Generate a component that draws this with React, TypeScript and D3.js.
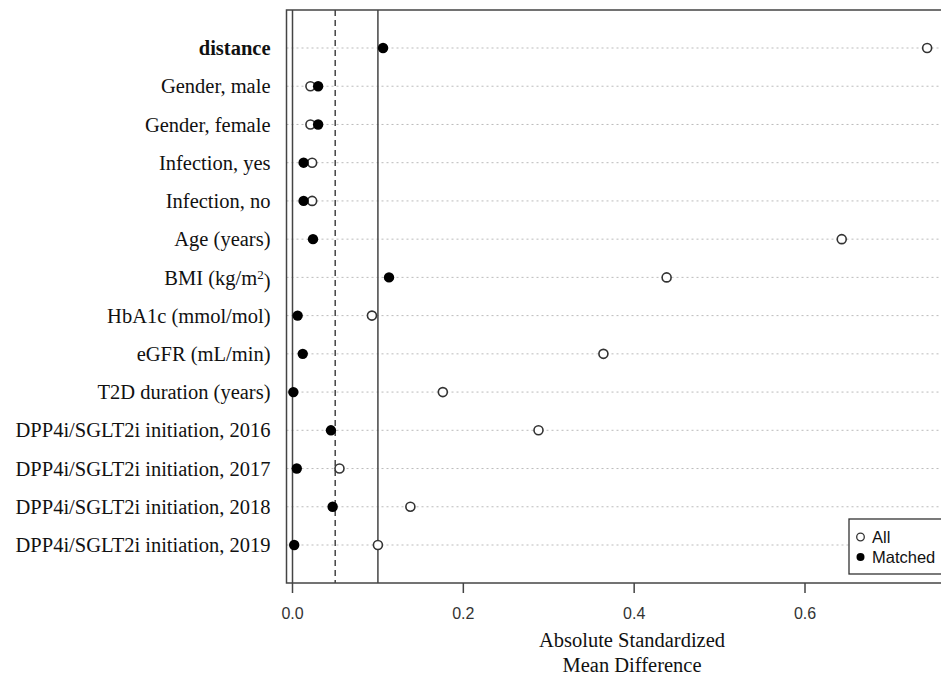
import React from "react";
import * as d3 from "d3";

const categories = [
  "distance",
  "Gender, male",
  "Gender, female",
  "Infection, yes",
  "Infection, no",
  "Age (years)",
  "BMI (kg/m²)",
  "HbA1c (mmol/mol)",
  "eGFR (mL/min)",
  "T2D duration (years)",
  "DPP4i/SGLT2i initiation, 2016",
  "DPP4i/SGLT2i initiation, 2017",
  "DPP4i/SGLT2i initiation, 2018",
  "DPP4i/SGLT2i initiation, 2019",
];
const allValues = [0.743, 0.021, 0.021, 0.023, 0.023, 0.643, 0.438, 0.093, 0.364, 0.176, 0.288, 0.055, 0.138, 0.1];
const matchedValues = [0.106, 0.03, 0.03, 0.013, 0.013, 0.024, 0.113, 0.006, 0.012, 0.001, 0.045, 0.005, 0.047, 0.002];
const xTicks = [0, 0.2, 0.4, 0.6];
const xTickLabels = ["0.0", "0.2", "0.4", "0.6"];

export default function App() {
  const W = 941, H = 679;
  const frameL = 286.5, frameT = 10, frameB = 583, frameR = 980;
  const x = d3.scaleLinear().domain([0, 0.6]).range([292.5, 805]);
  const y = d3.scaleLinear().domain([0, categories.length - 1]).range([48, 545]);
  const serif = "'Liberation Serif', 'Times New Roman', serif";
  const sans = "'Liberation Sans', Arial, sans-serif";
  const frameColor = "#444";
  return (
    <svg width={W} height={H} style={{ position: "absolute", left: 0, top: 0, background: "#fff" }}>
      <rect x={0} y={0} width={W} height={H} fill="#fff" />
      {categories.map((c, i) => (
        <line key={"g" + i} x1={frameL} x2={frameR} y1={y(i)} y2={y(i)} stroke="#bbb" strokeWidth={1} strokeDasharray="2,3" />
      ))}
      <line x1={x(0)} x2={x(0)} y1={frameT} y2={frameB} stroke={frameColor} strokeWidth={1.5} />
      <line x1={x(0.05)} x2={x(0.05)} y1={frameT} y2={frameB} stroke={frameColor} strokeWidth={1.5} strokeDasharray="6,4" />
      <line x1={x(0.1)} x2={x(0.1)} y1={frameT} y2={frameB} stroke={frameColor} strokeWidth={1.5} />
      <rect x={frameL} y={frameT} width={frameR - frameL} height={frameB - frameT} fill="none" stroke={frameColor} strokeWidth={1.5} />
      {categories.map((c, i) => (
        <g key={"p" + i}>
          <circle cx={x(allValues[i])} cy={y(i)} r={4.5} fill="#fff" stroke="#333" strokeWidth={1.6} />
          <circle cx={x(matchedValues[i])} cy={y(i)} r={5.2} fill="#000" />
        </g>
      ))}
      {categories.map((c, i) => {
        const m = c.match(/^(.*m)²(\))$/);
        return (
          <text key={"l" + i} x={270.5} y={y(i)} dy="0.35em" textAnchor="end" fontFamily={serif} fontSize={20.5}
            fontWeight={i === 0 ? "bold" : "normal"} fill="#111">
            {m ? (<>{m[1]}<tspan dy="-0.45em" fontSize={13}>2</tspan><tspan dy="0.45em">{m[2]}</tspan></>) : c}
          </text>
        );
      })}
      {xTicks.map((t, i) => (
        <g key={"t" + i}>
          <line x1={x(t)} x2={x(t)} y1={frameB} y2={frameB + 10} stroke={frameColor} strokeWidth={1.5} />
          <text x={x(t)} y={frameB + 30} dy="0.35em" textAnchor="middle" fontFamily={sans} fontSize={16} fill="#333">{xTickLabels[i]}</text>
        </g>
      ))}
      <text x={632} y={647} textAnchor="middle" fontFamily={serif} fontSize={20.5} fill="#111">Absolute Standardized</text>
      <text x={632} y={671.5} textAnchor="middle" fontFamily={serif} fontSize={20.5} fill="#111">Mean Difference</text>
      <rect x={849} y={519} width={120} height={55} fill="#fff" stroke="#333" strokeWidth={1.3} />
      <circle cx={860.5} cy={537} r={3.8} fill="#fff" stroke="#333" strokeWidth={1.3} />
      <circle cx={860.5} cy={557} r={4} fill="#000" />
      <text x={872} y={537} dy="0.35em" fontFamily={sans} fontSize={16.5} fill="#111">All</text>
      <text x={872} y={557} dy="0.35em" fontFamily={sans} fontSize={16.5} fill="#111">Matched</text>
    </svg>
  );
}
